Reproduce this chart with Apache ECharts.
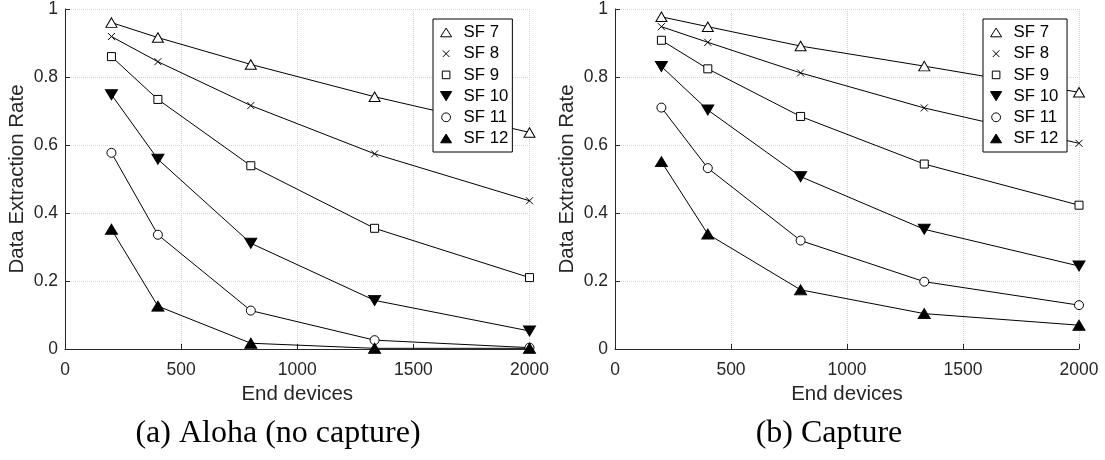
<!DOCTYPE html>
<html>
<head>
<meta charset="utf-8">
<script src="https://cdn.jsdelivr.net/npm/echarts@6/dist/echarts.min.js"></script>
<style>
html,body{margin:0;padding:0;background:#fff;}
#chart{width:1105px;height:460px;}
</style>
</head>
<body>
<div id="chart"></div>
<script>
// ---- data ----
var endDevices = [200, 400, 800, 1333, 2000];
var seriesNames = ['SF 7', 'SF 8', 'SF 9', 'SF 10', 'SF 11', 'SF 12'];

var alohaSF7  = [0.960, 0.916, 0.837, 0.742, 0.637];
var alohaSF8  = [0.919, 0.845, 0.716, 0.574, 0.436];
var alohaSF9  = [0.860, 0.734, 0.539, 0.355, 0.210];
var alohaSF10 = [0.748, 0.558, 0.311, 0.143, 0.053];
var alohaSF11 = [0.577, 0.336, 0.113, 0.026, 0.004];
var alohaSF12 = [0.352, 0.126, 0.017, 0.002, 0.002];

var captureSF7  = [0.977, 0.948, 0.891, 0.832, 0.755];
var captureSF8  = [0.948, 0.902, 0.812, 0.709, 0.605];
var captureSF9  = [0.908, 0.824, 0.684, 0.544, 0.423];
var captureSF10 = [0.831, 0.703, 0.507, 0.352, 0.244];
var captureSF11 = [0.710, 0.532, 0.319, 0.198, 0.129];
var captureSF12 = [0.551, 0.338, 0.174, 0.104, 0.070];

var yTicks = [0, 0.2, 0.4, 0.6, 0.8, 1];
var xTicks = [0, 500, 1000, 1500, 2000];
var captions = ['(a) Aloha (no capture)', '(b) Capture'];

// ---- styles ----
var AX = '#262626';
var TRI_UP = 'path://M5,0L10,8.66L0,8.66Z';
var TRI_DN = 'path://M0,0L10,0L5,8.66Z';
var CROSS = 'path://M0,0L10,10M0,10L10,0';
var SQUARE = 'path://M0,0L10,0L10,10L0,10Z';
var PAD = 'M5,0L5,0M5,10L5,10';
var L_TRI_UP = 'path://' + PAD + 'M5,0.6L10.5,9.3L-0.5,9.3Z';
var L_TRI_DN = 'path://' + PAD + 'M-0.6,0.4L10.6,0.4L5,9.6Z';
var L_CROSS = 'path://' + PAD + 'M1.7,1.7L8.3,8.3M1.7,8.3L8.3,1.7';
var L_SQUARE = 'path://' + PAD + 'M1.2,1.2L8.8,1.2L8.8,8.8L1.2,8.8Z';
var L_CIRCLE = 'path://' + PAD + 'M9.4,5A4.4,4.4 0 1 1 0.6,5A4.4,4.4 0 1 1 9.4,5Z';

var markerDefs = [
  {symbol: TRI_UP, size: [11, 9.5], fill: '#fff', icon: L_TRI_UP},
  {symbol: CROSS, size: 7, fill: '#000', icon: L_CROSS},
  {symbol: SQUARE, size: 8, fill: '#fff', icon: L_SQUARE},
  {symbol: TRI_DN, size: [12, 10], fill: '#000', icon: L_TRI_DN},
  {symbol: 'circle', size: 9, fill: '#fff', icon: L_CIRCLE},
  {symbol: TRI_UP, size: [12, 10], fill: '#000', icon: L_TRI_UP}
];

var panels = [
  {data: [alohaSF7, alohaSF8, alohaSF9, alohaSF10, alohaSF11, alohaSF12],
   grid: {left: 65, top: 8.5, width: 464.5, height: 340.5},
   legendLeft: 433, captionX: 278},
  {data: [captureSF7, captureSF8, captureSF9, captureSF10, captureSF11, captureSF12],
   grid: {left: 615, top: 8.5, width: 464, height: 340.5},
   legendLeft: 983, captionX: 829}
];

var grids = [], xAxes = [], yAxes = [], series = [], legends = [], graphics = [];

panels.forEach(function (p, pi) {
  grids.push(p.grid);
  xAxes.push({
    type: 'value', gridIndex: pi, min: xTicks[0], max: xTicks[xTicks.length - 1], interval: 500,
    name: 'End devices', nameLocation: 'middle', nameGap: 35,
    nameTextStyle: {fontFamily: 'Liberation Sans', fontSize: 20.5, color: AX},
    axisLine: {show: true, onZero: false, lineStyle: {color: AX, width: 1}},
    axisTick: {show: true, inside: true, length: 5, lineStyle: {color: AX}},
    axisLabel: {fontFamily: 'Liberation Sans', fontSize: 17.5, color: AX, margin: 12,
                formatter: function (v) { return String(v); }},
    splitLine: {show: true, lineStyle: {color: '#d4d4d4', type: 'dotted', width: 1}}
  });
  yAxes.push({
    type: 'value', gridIndex: pi, min: yTicks[0], max: yTicks[yTicks.length - 1], interval: 0.2,
    name: 'Data Extraction Rate', nameLocation: 'middle', nameGap: 37,
    nameTextStyle: {fontFamily: 'Liberation Sans', fontSize: 20.5, color: AX},
    axisLine: {show: true, onZero: false, lineStyle: {color: AX, width: 1}},
    axisTick: {show: true, inside: true, length: 5, lineStyle: {color: AX}},
    axisLabel: {fontFamily: 'Liberation Sans', fontSize: 17.5, color: AX, margin: 7,
                formatter: function (v) { return String(Math.round(v * 10) / 10); }},
    splitLine: {show: true, lineStyle: {color: '#d4d4d4', type: 'dotted', width: 1}}
  });
  var legendData = [];
  p.data.forEach(function (vals, si) {
    var m = markerDefs[si];
    var id = 'p' + pi + '_' + si;
    series.push({
      type: 'line', id: id, name: seriesNames[si] + (pi ? ' ' : ''),
      xAxisIndex: pi, yAxisIndex: pi,
      data: endDevices.map(function (x, i) { return [x, vals[i]]; }),
      symbol: m.symbol, symbolSize: m.size, showAllSymbol: true,
      lineStyle: {color: '#000', width: 1},
      itemStyle: {color: m.fill, borderColor: '#000', borderWidth: 1},
      emphasis: {disabled: true}, animation: false, silent: true
    });
    legendData.push({
      name: seriesNames[si] + (pi ? ' ' : ''), icon: m.icon,
      itemStyle: {color: m.fill, borderColor: '#000', borderWidth: 1}
    });
  });
  legends.push({
    data: legendData, orient: 'vertical', left: p.legendLeft, top: 19,
    itemWidth: 25, itemHeight: 10, itemGap: 4.2,
    padding: [5, 4, 5, 7],
    borderColor: '#000', borderWidth: 1, backgroundColor: '#fff',
    selectedMode: false,
    textStyle: {fontFamily: 'Liberation Sans', fontSize: 16.8, color: '#000', lineHeight: 17}
  });
  graphics.push({
    type: 'text', x: p.captionX, y: 434,
    style: {text: captions[pi], font: '32px "Liberation Serif"', fill: '#000',
            textAlign: 'center', textVerticalAlign: 'middle', verticalAlign: 'middle'}
  });
});

var chart = echarts.init(document.getElementById('chart'), null, {renderer: 'canvas'});
chart.setOption({
  animation: false,
  backgroundColor: '#fff',
  grid: grids, xAxis: xAxes, yAxis: yAxes, series: series, legend: legends,
  graphic: graphics
});
</script>
</body>
</html>
